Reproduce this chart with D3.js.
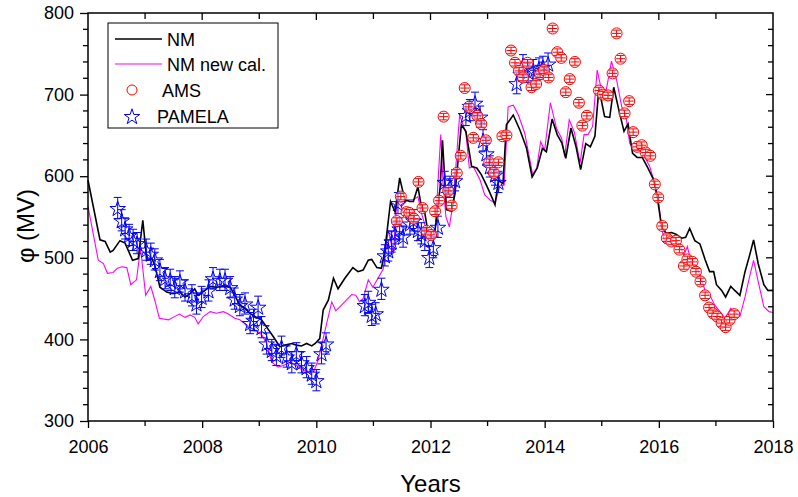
<!DOCTYPE html>
<html>
<head>
<meta charset="utf-8">
<title>Modulation potential</title>
<script src="https://d3js.org/d3.v7.min.js"></script>
<style>
  body { margin: 0; background: #fff; }
  text { font-family: "Liberation Sans", Arial, sans-serif; }
</style>
</head>
<body>
<script>
// NM (black line), decimal year / phi in MV
var nmYear = [2006.00,2006.21,2006.30,2006.39,2006.44,2006.56,2006.65,2006.78,2006.88,2006.96,2007.03,2007.12,2007.17,2007.26,2007.38,2007.49,2007.61,2007.70,2007.79,2007.87,2007.93,2008.05,2008.14,2008.25,2008.37,2008.49,2008.57,2008.66,2008.75,2008.84,2008.92,2009.04,2009.13,2009.25,2009.36,2009.45,2009.57,2009.65,2009.74,2009.83,2009.92,2009.98,2010.06,2010.12,2010.21,2010.30,2010.38,2010.50,2010.64,2010.73,2010.82,2010.91,2010.97,2011.06,2011.14,2011.20,2011.30,2011.38,2011.46,2011.55,2011.64,2011.70,2011.78,2011.84,2011.90,2011.96,2012.08,2012.17,2012.21,2012.28,2012.37,2012.43,2012.54,2012.62,2012.72,2012.81,2012.89,2012.98,2013.07,2013.13,2013.19,2013.27,2013.33,2013.45,2013.57,2013.68,2013.78,2013.87,2013.96,2014.03,2014.13,2014.22,2014.30,2014.37,2014.46,2014.55,2014.63,2014.72,2014.80,2014.88,2014.95,2015.05,2015.14,2015.21,2015.30,2015.39,2015.46,2015.54,2015.62,2015.71,2015.81,2015.90,2015.97,2016.05,2016.13,2016.22,2016.30,2016.40,2016.47,2016.54,2016.63,2016.72,2016.81,2016.89,2016.96,2017.01,2017.10,2017.17,2017.26,2017.33,2017.42,2017.51,2017.59,2017.66,2017.74,2017.84,2017.91,2018.00];
var nmPhi = [595,522,520,507,509,521,518,497,499,546,497,499,491,464,458,456,458,452,456,462,454,460,465,464,465,464,454,442,438,432,428,424,415,403,391,393,395,393,392,395,392,395,401,436,448,475,462,475,488,483,485,497,498,488,487,509,569,556,598,571,569,569,587,563,555,530,534,587,644,559,557,579,663,655,612,610,602,589,575,565,595,591,663,675,656,635,599,610,634,630,670,651,641,622,659,636,608,640,636,649,708,673,672,709,681,655,664,628,623,623,610,597,576,537,530,531,529,524,525,536,521,517,498,483,483,467,460,452,465,460,454,483,503,522,493,467,460,460];

// NM new calibration (magenta line)
var newYear = [2006.00,2006.18,2006.27,2006.34,2006.44,2006.51,2006.59,2006.68,2006.75,2006.85,2006.92,2007.01,2007.10,2007.17,2007.25,2007.41,2007.49,2007.60,2007.70,2007.79,2007.87,2007.93,2008.02,2008.14,2008.25,2008.37,2008.46,2008.57,2008.66,2008.75,2008.84,2008.95,2009.04,2009.13,2009.22,2009.33,2009.42,2009.54,2009.65,2009.74,2009.86,2009.95,2010.03,2010.15,2010.27,2010.34,2010.44,2010.62,2010.69,2010.76,2010.82,2010.91,2010.99,2011.08,2011.17,2011.26,2011.35,2011.41,2011.49,2011.60,2011.70,2011.78,2011.84,2011.93,2011.99,2012.08,2012.18,2012.22,2012.27,2012.33,2012.40,2012.51,2012.62,2012.68,2012.75,2012.87,2012.95,2013.04,2013.13,2013.22,2013.29,2013.36,2013.45,2013.54,2013.65,2013.79,2013.86,2013.93,2014.00,2014.10,2014.21,2014.30,2014.35,2014.43,2014.52,2014.62,2014.69,2014.76,2014.84,2014.92,2015.00,2015.07,2015.17,2015.26,2015.35,2015.42,2015.49,2015.58,2015.67,2015.75,2015.84,2015.93,2015.99,2016.05,2016.10,2016.19,2016.28,2016.37,2016.44,2016.50,2016.57,2016.65,2016.73,2016.82,2016.91,2016.98,2017.07,2017.16,2017.26,2017.33,2017.42,2017.51,2017.59,2017.66,2017.74,2017.84,2017.93,2018.00];
var newPhi = [563,497,493,481,482,487,489,488,467,473,512,454,465,448,426,424,427,431,427,430,427,419,428,434,432,434,431,426,424,419,411,410,406,395,372,366,368,372,368,363,361,360,374,410,446,435,442,455,454,446,450,473,464,475,486,534,505,569,563,571,571,575,555,534,526,530,651,591,550,538,569,675,653,610,612,595,577,571,567,589,589,685,687,675,653,602,610,642,632,690,658,646,624,669,654,616,651,651,661,730,704,702,741,718,685,675,640,632,632,624,612,591,571,538,518,521,516,514,503,514,493,491,477,458,452,442,434,426,438,434,428,452,477,497,471,440,434,433];

// AMS
var amsYear = [2011.41,2011.48,2011.58,2011.63,2011.71,2011.79,2011.86,2011.93,2012.01,2012.08,2012.15,2012.23,2012.31,2012.37,2012.46,2012.53,2012.60,2012.67,2012.75,2012.82,2012.89,2012.97,2013.03,2013.11,2013.19,2013.26,2013.33,2013.41,2013.48,2013.55,2013.62,2013.70,2013.77,2013.85,2013.92,2013.99,2014.07,2014.14,2014.22,2014.29,2014.37,2014.44,2014.53,2014.60,2014.66,2014.74,2014.95,2015.02,2015.11,2015.19,2015.26,2015.33,2015.40,2015.48,2015.55,2015.62,2015.70,2015.77,2015.85,2015.93,2015.99,2016.06,2016.14,2016.22,2016.30,2016.36,2016.44,2016.50,2016.59,2016.65,2016.73,2016.81,2016.88,2016.95,2017.02,2017.10,2017.17,2017.24,2017.32];
var amsPhi = [545,575,556,555,548,593,561,533,528,557,570,673,582,564,604,625,708,685,647,674,664,644,617,604,617,649,650,754,739,729,721,739,709,713,725,730,721,781,752,745,703,719,740,690,662,674,705,700,699,726,775,744,677,692,654,636,638,629,625,590,574,539,524,520,521,510,490,498,495,483,471,454,439,432,428,420,415,424,431];

// PAMELA
var pamYear = [2006.52,2006.59,2006.65,2006.72,2006.79,2006.86,2007.02,2007.10,2007.17,2007.26,2007.35,2007.44,2007.52,2007.61,2007.70,2007.82,2007.90,2007.99,2008.11,2008.19,2008.31,2008.40,2008.49,2008.57,2008.66,2008.75,2008.84,2008.90,2008.98,2009.04,2009.13,2009.22,2009.30,2009.39,2009.48,2009.57,2009.65,2009.74,2009.83,2009.92,2010.00,2010.09,2010.17,2010.85,2010.91,2010.97,2011.04,2011.14,2011.20,2011.26,2011.32,2011.38,2011.43,2011.46,2011.52,2011.64,2011.70,2011.78,2011.84,2011.90,2011.98,2012.05,2012.13,2012.25,2012.34,2012.43,2012.62,2012.69,2012.78,2012.87,2012.92,2012.98,2013.04,2013.13,2013.19,2013.51,2013.62,2013.71,2013.80,2013.90,2013.97,2014.06];
var pamPhi = [561,546,536,528,522,518,510,505,498,485,475,473,464,471,460,454,444,452,460,475,473,473,464,450,442,444,420,424,440,415,395,387,381,391,379,372,383,372,366,358,350,383,395,442,446,430,432,462,503,509,520,530,567,536,526,542,546,534,530,522,501,513,538,593,587,595,675,681,690,673,644,628,612,602,593,714,736,728,730,732,734,738];
var pamErr = 13;
var amsErr = 4;

var yearTicks = [2006, 2008, 2010, 2012, 2014, 2016, 2018];
var phiTicks = [300, 400, 500, 600, 700, 800];

var width = 798, height = 497;
var margin = {top: 13, right: 25, bottom: 76, left: 88};

var svg = d3.select("body").append("svg")
    .attr("width", width)
    .attr("height", height);

var x = d3.scaleLinear().domain([2006, 2018]).range([margin.left, width - margin.right]);
var y = d3.scaleLinear().domain([300, 800]).range([height - margin.bottom, margin.top]);

var nm = nmYear.map(function(t, i){ return [t, nmPhi[i]]; });
var nmNew = newYear.map(function(t, i){ return [t, newPhi[i]]; });
var ams = amsYear.map(function(t, i){ return [t, amsPhi[i]]; });
var pam = pamYear.map(function(t, i){ return [t, pamPhi[i]]; });

var line = d3.line()
    .x(function(d){ return x(d[0]); })
    .y(function(d){ return y(d[1]); });

var plot = svg.append("g");

plot.append("path")
    .datum(nmNew)
    .attr("d", line)
    .style("fill", "none")
    .style("stroke", "#ff00ff")
    .style("stroke-width", 1.1);

plot.append("path")
    .datum(nm)
    .attr("d", line)
    .style("fill", "none")
    .style("stroke", "#000")
    .style("stroke-width", 1.6);

// PAMELA stars with error bars
var star = d3.symbol().type(d3.symbolStar).size(75);
var pg = plot.selectAll(".pam")
    .data(pam)
    .enter().append("g")
    .attr("class", "pam")
    .attr("transform", function(d){ return "translate(" + x(d[0]) + "," + y(d[1]) + ")"; })
    .style("stroke", "#0000ff")
    .style("fill", "none")
    .style("stroke-width", 1);

pg.append("path").attr("d", function(d){
  var h = y(d[1] - pamErr) - y(d[1]);
  return "M0," + (-h) + "V" + h + "M-4," + (-h) + "H4M-4," + h + "H4";
});
pg.append("path").attr("d", star).attr("transform", "translate(0,1)");

// AMS circles
var ag = plot.selectAll(".ams")
    .data(ams)
    .enter().append("g")
    .attr("class", "ams")
    .attr("transform", function(d){ return "translate(" + x(d[0]) + "," + y(d[1]) + ")"; })
    .style("stroke", "#ff0000")
    .style("stroke-width", 1);

ag.append("circle").attr("r", 5.5).style("fill", "#fff").style("fill-opacity", 0.6);
ag.append("path").style("fill", "none").attr("d", function(d){
  var h = y(d[1] - amsErr) - y(d[1]);
  return "M-4.5,0H4.5M0," + (-h) + "V" + h + "M-4," + (-h) + "H4M-4," + h + "H4";
});

// axes
var xAxis = d3.axisBottom(x).tickValues(yearTicks).tickFormat(d3.format("d")).tickSize(7).tickSizeOuter(0);
var yAxis = d3.axisLeft(y).tickValues(phiTicks).tickSize(8).tickSizeOuter(0);

var minorYears = d3.range(2007, 2018, 2);
var minorPhi = d3.range(320, 800, 20).filter(function(v){ return v % 100 != 0; });

var gx = svg.append("g")
    .attr("transform", "translate(0," + (height - margin.bottom) + ")")
    .call(xAxis);
var gy = svg.append("g")
    .attr("transform", "translate(" + margin.left + ",0)")
    .call(yAxis);

[gx, gy].forEach(function(g){
  g.select(".domain").remove();
  g.selectAll("line").style("stroke", "#000").style("stroke-width", 1.3);
  g.selectAll("text").style("font-size", "18px").style("fill", "#000")
    .style("font-family", "'Liberation Sans', Arial, sans-serif");
});
gx.selectAll("text").attr("y", 13).attr("dy", "1.05em");
gy.selectAll("text").attr("x", -14);

// minor ticks
svg.append("g").selectAll("line").data(minorYears).enter().append("line")
    .attr("x1", function(d){ return x(d); }).attr("x2", function(d){ return x(d); })
    .attr("y1", y(300)).attr("y2", y(300) + 5)
    .style("stroke", "#000").style("stroke-width", 1.3);
svg.append("g").selectAll("line").data(minorPhi).enter().append("line")
    .attr("x1", x(2006) - 5).attr("x2", x(2006))
    .attr("y1", function(d){ return y(d); }).attr("y2", function(d){ return y(d); })
    .style("stroke", "#000").style("stroke-width", 1.3);

// mirrored top and right ticks (pointing inward)
var allYears = d3.range(2007, 2018, 1);
svg.append("g").selectAll("line").data(allYears).enter().append("line")
    .attr("x1", function(d){ return x(d); }).attr("x2", function(d){ return x(d); })
    .attr("y1", y(800)).attr("y2", function(d){ return y(800) + (d % 2 == 0 ? 7 : 6); })
    .style("stroke", "#000").style("stroke-width", 1.3);
var allPhi = d3.range(320, 800, 20);
svg.append("g").selectAll("line").data(allPhi).enter().append("line")
    .attr("x1", x(2018)).attr("x2", function(d){ return x(2018) - (d % 100 == 0 ? 7 : 5); })
    .attr("y1", function(d){ return y(d); }).attr("y2", function(d){ return y(d); })
    .style("stroke", "#000").style("stroke-width", 1.3);

// frame
svg.append("rect")
    .attr("x", x(2006)).attr("y", y(800))
    .attr("width", x(2018) - x(2006)).attr("height", y(300) - y(800))
    .style("fill", "none").style("stroke", "#000").style("stroke-width", 1.5);

// axis titles
svg.append("text")
    .attr("x", (x(2006) + x(2018)) / 2).attr("y", 492)
    .attr("text-anchor", "middle")
    .style("font-size", "24px")
    .text("Years");

svg.append("text")
    .attr("transform", "translate(34,226) rotate(-90)")
    .attr("text-anchor", "middle")
    .style("font-size", "24px")
    .text("φ (MV)");

// legend
var lg = svg.append("g");
lg.append("rect")
    .attr("x", 108).attr("y", 23).attr("width", 170).attr("height", 105)
    .style("fill", "#fff").style("stroke", "#000").style("stroke-width", 1);

lg.append("line").attr("x1", 115).attr("x2", 162).attr("y1", 39).attr("y2", 39)
    .style("stroke", "#000").style("stroke-width", 1.6);
lg.append("line").attr("x1", 115).attr("x2", 162).attr("y1", 64).attr("y2", 64)
    .style("stroke", "#ff00ff").style("stroke-width", 1.1);
lg.append("circle").attr("cx", 132).attr("cy", 90).attr("r", 5)
    .style("fill", "none").style("stroke", "#ff0000");
lg.append("path").attr("d", star).attr("transform", "translate(132,117)")
    .style("fill", "none").style("stroke", "#0000ff");

var legendText = [["NM", 167, 46], ["NM new cal.", 167, 71], ["AMS", 162, 97], ["PAMELA", 157, 123]];
lg.selectAll("text.leg").data(legendText).enter().append("text")
    .attr("class", "leg")
    .attr("x", function(d){ return d[1]; })
    .attr("y", function(d){ return d[2]; })
    .style("font-size", "18px")
    .text(function(d){ return d[0]; });
</script>
</body>
</html>
